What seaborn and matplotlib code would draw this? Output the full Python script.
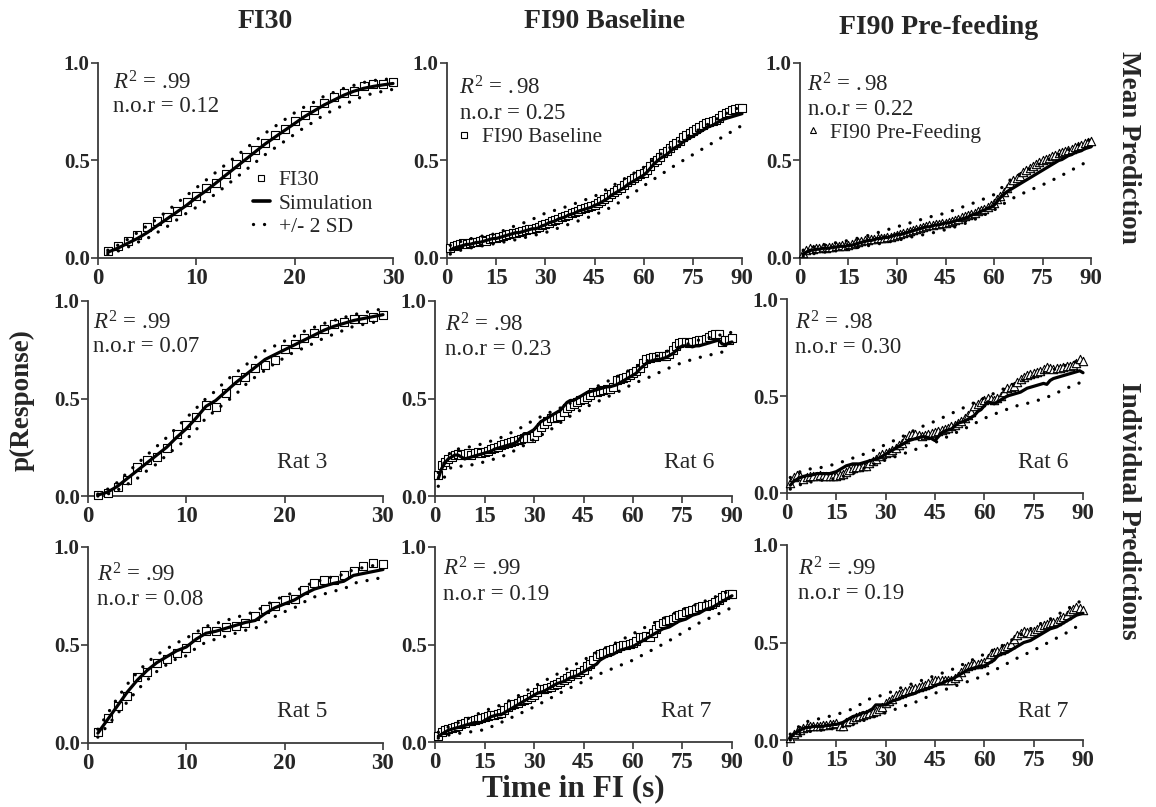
import numpy as np
import matplotlib
matplotlib.use("Agg")
import matplotlib.pyplot as plt
from matplotlib.lines import Line2D
import seaborn as sns

# ---------------------------------------------------------------- data
t30 = np.arange(1, 31)
t90 = np.arange(1, 91)
band90_t = [1, 5, 10, 15, 20, 25, 30, 35, 40, 45, 50, 55, 60, 65, 70, 75, 80, 85, 90]

# FI30, mean
fi30_mean_obs = [0.034, 0.06, 0.085, 0.12, 0.16, 0.19, 0.21, 0.24, 0.285, 0.32,
                 0.36, 0.385, 0.43, 0.48, 0.52, 0.555, 0.59, 0.63, 0.66, 0.70,
                 0.735, 0.76, 0.795, 0.825, 0.845, 0.855, 0.88, 0.89, 0.894, 0.90]
fi30_mean_sim = [0.03, 0.05, 0.075, 0.10, 0.13, 0.165, 0.20, 0.235, 0.27, 0.31,
                 0.345, 0.385, 0.425, 0.465, 0.505, 0.545, 0.585, 0.62, 0.655, 0.69,
                 0.725, 0.755, 0.785, 0.81, 0.835, 0.855, 0.87, 0.88, 0.888, 0.895]
fi30_mean_hi = [0.04, 0.065, 0.095, 0.13, 0.165, 0.20, 0.24, 0.28, 0.32, 0.36,
                0.40, 0.44, 0.48, 0.52, 0.56, 0.60, 0.64, 0.675, 0.71, 0.745,
                0.775, 0.80, 0.83, 0.85, 0.87, 0.885, 0.90, 0.91, 0.915, 0.92]
fi30_mean_lo = [0.02, 0.035, 0.055, 0.08, 0.10, 0.13, 0.16, 0.195, 0.23, 0.26,
                0.295, 0.33, 0.37, 0.41, 0.45, 0.49, 0.53, 0.565, 0.60, 0.635,
                0.67, 0.70, 0.735, 0.76, 0.785, 0.81, 0.83, 0.845, 0.855, 0.865]

# FI30, rat 3
fi30_rat3_obs = [0.005, 0.017, 0.048, 0.082, 0.147, 0.184, 0.20, 0.244, 0.32, 0.363,
                 0.406, 0.466, 0.454, 0.526, 0.594, 0.611, 0.654, 0.67, 0.70, 0.756,
                 0.78, 0.81, 0.838, 0.858, 0.884, 0.89, 0.906, 0.91, 0.92, 0.93]
fi30_rat3_sim = [0.005, 0.02, 0.05, 0.09, 0.13, 0.17, 0.21, 0.25, 0.30, 0.345,
                 0.40, 0.46, 0.49, 0.535, 0.58, 0.62, 0.66, 0.70, 0.725, 0.75,
                 0.775, 0.80, 0.825, 0.85, 0.87, 0.885, 0.90, 0.91, 0.92, 0.93]
fi30_rat3_hi = [0.01, 0.035, 0.07, 0.12, 0.165, 0.21, 0.255, 0.30, 0.35, 0.40,
                0.45, 0.50, 0.54, 0.59, 0.63, 0.67, 0.71, 0.745, 0.77, 0.795,
                0.82, 0.845, 0.865, 0.885, 0.90, 0.915, 0.93, 0.94, 0.95, 0.96]
fi30_rat3_lo = [0.0, 0.01, 0.03, 0.06, 0.09, 0.13, 0.165, 0.21, 0.25, 0.29,
                0.34, 0.40, 0.44, 0.48, 0.52, 0.57, 0.61, 0.645, 0.68, 0.71,
                0.74, 0.76, 0.785, 0.81, 0.83, 0.85, 0.87, 0.88, 0.89, 0.90]

# FI30, rat 5
fi30_rat5_obs = [0.056, 0.13, 0.19, 0.24, 0.335, 0.36, 0.41, 0.43, 0.46, 0.486,
                 0.54, 0.57, 0.57, 0.59, 0.595, 0.61, 0.65, 0.685, 0.70, 0.73,
                 0.735, 0.78, 0.815, 0.83, 0.83, 0.855, 0.88, 0.905, 0.92, 0.915]
fi30_rat5_sim = [0.05, 0.12, 0.19, 0.26, 0.32, 0.37, 0.41, 0.44, 0.47, 0.49,
                 0.53, 0.56, 0.57, 0.585, 0.60, 0.615, 0.625, 0.66, 0.69, 0.71,
                 0.73, 0.76, 0.785, 0.80, 0.815, 0.825, 0.855, 0.865, 0.875, 0.885]
fi30_rat5_hi = [0.07, 0.15, 0.23, 0.30, 0.36, 0.41, 0.45, 0.48, 0.51, 0.535,
                0.565, 0.595, 0.61, 0.625, 0.64, 0.655, 0.67, 0.70, 0.73, 0.75,
                0.77, 0.80, 0.82, 0.835, 0.85, 0.86, 0.885, 0.895, 0.905, 0.915]
fi30_rat5_lo = [0.03, 0.09, 0.15, 0.21, 0.27, 0.32, 0.365, 0.40, 0.43, 0.445,
                0.485, 0.515, 0.53, 0.545, 0.56, 0.575, 0.585, 0.615, 0.645, 0.67,
                0.69, 0.72, 0.745, 0.76, 0.775, 0.785, 0.815, 0.825, 0.835, 0.845]

# FI90 baseline, mean
base_mean_obs = [0.05, 0.06, 0.065, 0.07, 0.075, 0.07, 0.075, 0.08, 0.08, 0.085,
                 0.09, 0.085, 0.095, 0.10, 0.10, 0.11, 0.115, 0.12, 0.125, 0.13,
                 0.13, 0.135, 0.14, 0.145, 0.15, 0.15, 0.155, 0.16, 0.17, 0.175,
                 0.18, 0.19, 0.195, 0.20, 0.21, 0.215, 0.22, 0.23, 0.235, 0.24,
                 0.25, 0.255, 0.26, 0.265, 0.27, 0.28, 0.29, 0.30, 0.315, 0.33,
                 0.34, 0.35, 0.36, 0.375, 0.39, 0.40, 0.41, 0.42, 0.43, 0.435,
                 0.45, 0.47, 0.49, 0.505, 0.52, 0.54, 0.55, 0.565, 0.58, 0.59,
                 0.60, 0.62, 0.63, 0.64, 0.65, 0.66, 0.67, 0.68, 0.69, 0.695,
                 0.70, 0.71, 0.72, 0.735, 0.745, 0.75, 0.76, 0.765, 0.77, 0.77]
base_mean_sim = [0.04, 0.05, 0.055, 0.06, 0.065, 0.07, 0.07, 0.075, 0.08, 0.08,
                 0.085, 0.09, 0.095, 0.10, 0.10, 0.105, 0.11, 0.115, 0.12, 0.125,
                 0.13, 0.13, 0.135, 0.14, 0.145, 0.15, 0.15, 0.155, 0.165, 0.17,
                 0.18, 0.185, 0.19, 0.20, 0.205, 0.21, 0.22, 0.225, 0.23, 0.24,
                 0.245, 0.25, 0.255, 0.26, 0.27, 0.275, 0.285, 0.295, 0.305, 0.32,
                 0.33, 0.34, 0.35, 0.36, 0.375, 0.385, 0.395, 0.405, 0.415, 0.425,
                 0.44, 0.46, 0.48, 0.495, 0.51, 0.52, 0.53, 0.545, 0.56, 0.57,
                 0.58, 0.595, 0.605, 0.615, 0.625, 0.635, 0.645, 0.655, 0.665, 0.675,
                 0.68, 0.69, 0.70, 0.71, 0.715, 0.72, 0.725, 0.73, 0.735, 0.74]
base_mean_hi = [0.065, 0.09, 0.11, 0.125, 0.16, 0.19, 0.23, 0.255, 0.285, 0.316,
                0.365, 0.415, 0.465, 0.53, 0.59, 0.64, 0.69, 0.74, 0.78]
base_mean_lo = [0.02, 0.045, 0.06, 0.075, 0.09, 0.11, 0.13, 0.16, 0.19, 0.22,
                0.26, 0.31, 0.37, 0.425, 0.48, 0.53, 0.58, 0.63, 0.68]

# FI90 baseline, rat 6
base_rat6_obs = [0.11, 0.16, 0.175, 0.19, 0.20, 0.21, 0.215, 0.21, 0.215, 0.22,
                 0.21, 0.22, 0.225, 0.22, 0.227, 0.23, 0.24, 0.245, 0.25, 0.26,
                 0.265, 0.27, 0.275, 0.28, 0.285, 0.29, 0.295, 0.30, 0.30, 0.31,
                 0.33, 0.355, 0.37, 0.385, 0.40, 0.40, 0.405, 0.41, 0.43, 0.45,
                 0.46, 0.47, 0.48, 0.49, 0.50, 0.51, 0.52, 0.534, 0.535, 0.54,
                 0.545, 0.55, 0.55, 0.56, 0.595, 0.60, 0.605, 0.61, 0.62, 0.63,
                 0.64, 0.655, 0.68, 0.705, 0.71, 0.713, 0.715, 0.717, 0.72, 0.72,
                 0.73, 0.747, 0.77, 0.785, 0.79, 0.79, 0.785, 0.79, 0.795, 0.80,
                 0.80, 0.807, 0.815, 0.825, 0.83, 0.833, 0.79, 0.80, 0.80, 0.81]
base_rat6_sim = [0.09, 0.14, 0.17, 0.19, 0.20, 0.21, 0.21, 0.20, 0.19, 0.195,
                 0.20, 0.205, 0.21, 0.215, 0.22, 0.225, 0.23, 0.24, 0.245, 0.25,
                 0.255, 0.26, 0.265, 0.27, 0.28, 0.30, 0.32, 0.32, 0.33, 0.34,
                 0.36, 0.38, 0.39, 0.40, 0.41, 0.42, 0.43, 0.44, 0.46, 0.48,
                 0.49, 0.49, 0.50, 0.51, 0.52, 0.53, 0.535, 0.54, 0.545, 0.55,
                 0.555, 0.56, 0.56, 0.565, 0.57, 0.58, 0.59, 0.60, 0.61, 0.62,
                 0.63, 0.65, 0.665, 0.68, 0.69, 0.695, 0.70, 0.70, 0.705, 0.71,
                 0.72, 0.73, 0.745, 0.76, 0.77, 0.77, 0.77, 0.765, 0.77, 0.77,
                 0.775, 0.78, 0.785, 0.79, 0.795, 0.80, 0.78, 0.775, 0.785, 0.79]
base_rat6_hi = [0.12, 0.235, 0.25, 0.27, 0.30, 0.34, 0.39, 0.43, 0.466, 0.52,
                0.57, 0.61, 0.655, 0.70, 0.74, 0.77, 0.80, 0.82, 0.84]
base_rat6_lo = [0.05, 0.15, 0.155, 0.175, 0.20, 0.24, 0.29, 0.34, 0.40, 0.45,
                0.49, 0.53, 0.575, 0.61, 0.65, 0.685, 0.71, 0.73, 0.75]

# FI90 baseline, rat 7
base_rat7_obs = [0.03, 0.05, 0.06, 0.065, 0.07, 0.075, 0.08, 0.09, 0.10, 0.11,
                 0.11, 0.115, 0.12, 0.125, 0.13, 0.135, 0.14, 0.14, 0.145, 0.15,
                 0.165, 0.18, 0.19, 0.195, 0.20, 0.21, 0.215, 0.22, 0.23, 0.24,
                 0.255, 0.27, 0.27, 0.275, 0.28, 0.29, 0.30, 0.31, 0.32, 0.33,
                 0.34, 0.35, 0.35, 0.36, 0.37, 0.39, 0.40, 0.42, 0.44, 0.45,
                 0.455, 0.46, 0.47, 0.475, 0.48, 0.49, 0.495, 0.50, 0.505, 0.51,
                 0.52, 0.54, 0.54, 0.545, 0.54, 0.56, 0.58, 0.60, 0.61, 0.62,
                 0.625, 0.63, 0.64, 0.65, 0.655, 0.665, 0.67, 0.675, 0.68, 0.69,
                 0.695, 0.70, 0.705, 0.71, 0.72, 0.73, 0.745, 0.755, 0.76, 0.76]
base_rat7_sim = [0.03, 0.04, 0.05, 0.06, 0.065, 0.07, 0.075, 0.08, 0.085, 0.09,
                 0.095, 0.10, 0.10, 0.10, 0.11, 0.12, 0.13, 0.135, 0.14, 0.14,
                 0.15, 0.16, 0.17, 0.18, 0.19, 0.20, 0.21, 0.22, 0.23, 0.24,
                 0.25, 0.255, 0.26, 0.27, 0.28, 0.29, 0.30, 0.305, 0.31, 0.32,
                 0.33, 0.335, 0.34, 0.35, 0.36, 0.37, 0.38, 0.39, 0.40, 0.42,
                 0.43, 0.44, 0.445, 0.45, 0.46, 0.47, 0.475, 0.48, 0.485, 0.49,
                 0.50, 0.51, 0.52, 0.53, 0.54, 0.55, 0.56, 0.57, 0.58, 0.585,
                 0.59, 0.60, 0.61, 0.62, 0.625, 0.63, 0.64, 0.65, 0.655, 0.66,
                 0.67, 0.68, 0.685, 0.69, 0.70, 0.71, 0.72, 0.73, 0.74, 0.75]
base_rat7_hi = [0.05, 0.085, 0.12, 0.16, 0.19, 0.235, 0.285, 0.33, 0.375, 0.42,
                0.47, 0.51, 0.555, 0.60, 0.64, 0.68, 0.71, 0.745, 0.78]
base_rat7_lo = [0.02, 0.04, 0.05, 0.063, 0.10, 0.14, 0.18, 0.225, 0.27, 0.31,
                0.35, 0.385, 0.42, 0.465, 0.51, 0.56, 0.61, 0.65, 0.69]

# FI90 pre-feeding, mean
pre_mean_obs = [0.025, 0.04, 0.05, 0.045, 0.05, 0.05, 0.055, 0.05, 0.055, 0.055,
                0.06, 0.06, 0.065, 0.06, 0.065, 0.07, 0.075, 0.08, 0.085, 0.09,
                0.09, 0.095, 0.095, 0.10, 0.10, 0.105, 0.11, 0.11, 0.115, 0.12,
                0.125, 0.13, 0.135, 0.14, 0.145, 0.15, 0.155, 0.16, 0.165, 0.17,
                0.17, 0.175, 0.175, 0.18, 0.18, 0.185, 0.19, 0.195, 0.20, 0.21,
                0.215, 0.22, 0.225, 0.23, 0.24, 0.245, 0.25, 0.26, 0.27, 0.28,
                0.30, 0.32, 0.34, 0.36, 0.385, 0.40, 0.41, 0.42, 0.44, 0.45,
                0.46, 0.47, 0.48, 0.49, 0.50, 0.51, 0.515, 0.525, 0.53, 0.54,
                0.545, 0.55, 0.555, 0.56, 0.57, 0.575, 0.58, 0.59, 0.595, 0.60]
pre_mean_sim = [0.02, 0.03, 0.04, 0.04, 0.045, 0.045, 0.05, 0.05, 0.05, 0.055,
                0.055, 0.06, 0.06, 0.06, 0.065, 0.065, 0.07, 0.075, 0.08, 0.085,
                0.09, 0.09, 0.095, 0.10, 0.10, 0.105, 0.105, 0.11, 0.115, 0.12,
                0.12, 0.125, 0.13, 0.135, 0.14, 0.145, 0.15, 0.155, 0.16, 0.16,
                0.165, 0.17, 0.17, 0.175, 0.18, 0.18, 0.185, 0.19, 0.195, 0.20,
                0.205, 0.21, 0.22, 0.225, 0.23, 0.24, 0.245, 0.255, 0.26, 0.27,
                0.29, 0.31, 0.325, 0.34, 0.35, 0.36, 0.37, 0.38, 0.39, 0.40,
                0.41, 0.42, 0.43, 0.44, 0.45, 0.46, 0.47, 0.48, 0.49, 0.50,
                0.505, 0.515, 0.525, 0.53, 0.54, 0.545, 0.55, 0.56, 0.565, 0.57]
pre_mean_hi = [0.04, 0.06, 0.075, 0.09, 0.11, 0.135, 0.16, 0.185, 0.21, 0.23,
               0.26, 0.29, 0.325, 0.40, 0.45, 0.49, 0.53, 0.57, 0.61]
pre_mean_lo = [0.01, 0.025, 0.035, 0.045, 0.06, 0.075, 0.09, 0.11, 0.125, 0.145,
               0.17, 0.205, 0.245, 0.30, 0.34, 0.375, 0.415, 0.46, 0.505]

# FI90 pre-feeding, rat 6
pre_rat6_obs = [0.05, 0.08, 0.095, 0.09, 0.07, 0.08, 0.09, 0.086, 0.09, 0.095,
                0.09, 0.088, 0.086, 0.09, 0.09, 0.095, 0.10, 0.11, 0.12, 0.13,
                0.135, 0.135, 0.137, 0.14, 0.155, 0.165, 0.175, 0.19, 0.20, 0.206,
                0.21, 0.22, 0.23, 0.245, 0.258, 0.28, 0.30, 0.305, 0.306, 0.30,
                0.296, 0.30, 0.306, 0.31, 0.313, 0.32, 0.326, 0.33, 0.335, 0.344,
                0.35, 0.36, 0.37, 0.385, 0.40, 0.42, 0.447, 0.46, 0.47, 0.48,
                0.49, 0.485, 0.48, 0.49, 0.498, 0.52, 0.54, 0.545, 0.55, 0.57,
                0.59, 0.60, 0.61, 0.615, 0.62, 0.625, 0.627, 0.64, 0.65, 0.645,
                0.64, 0.642, 0.644, 0.65, 0.653, 0.655, 0.66, 0.67, 0.69, 0.68]
pre_rat6_sim = [0.04, 0.06, 0.07, 0.08, 0.085, 0.09, 0.09, 0.095, 0.10, 0.10,
                0.10, 0.10, 0.10, 0.105, 0.11, 0.12, 0.13, 0.14, 0.145, 0.15,
                0.15, 0.15, 0.155, 0.16, 0.165, 0.17, 0.175, 0.18, 0.19, 0.20,
                0.21, 0.22, 0.23, 0.24, 0.25, 0.26, 0.27, 0.275, 0.28, 0.285,
                0.29, 0.29, 0.285, 0.28, 0.27, 0.29, 0.31, 0.32, 0.325, 0.33,
                0.345, 0.36, 0.365, 0.37, 0.38, 0.39, 0.40, 0.42, 0.43, 0.45,
                0.47, 0.465, 0.46, 0.47, 0.48, 0.49, 0.50, 0.505, 0.51, 0.515,
                0.52, 0.53, 0.54, 0.545, 0.55, 0.555, 0.56, 0.565, 0.56, 0.58,
                0.59, 0.595, 0.60, 0.605, 0.61, 0.615, 0.62, 0.625, 0.63, 0.62]
pre_rat6_hi = [0.08, 0.12, 0.13, 0.15, 0.18, 0.21, 0.25, 0.29, 0.335, 0.37,
               0.41, 0.45, 0.49, 0.53, 0.57, 0.60, 0.63, 0.66, 0.69]
pre_rat6_lo = [0.02, 0.05, 0.065, 0.075, 0.10, 0.14, 0.17, 0.20, 0.23, 0.26,
               0.30, 0.34, 0.385, 0.42, 0.45, 0.47, 0.50, 0.54, 0.575]

# FI90 pre-feeding, rat 7
pre_rat7_obs = [0.01, 0.03, 0.04, 0.05, 0.06, 0.065, 0.07, 0.07, 0.07, 0.07,
                0.075, 0.075, 0.08, 0.08, 0.085, 0.07, 0.07, 0.09, 0.10, 0.11,
                0.12, 0.125, 0.13, 0.135, 0.14, 0.145, 0.15, 0.16, 0.17, 0.19,
                0.20, 0.21, 0.23, 0.235, 0.24, 0.25, 0.255, 0.26, 0.265, 0.27,
                0.275, 0.28, 0.29, 0.30, 0.31, 0.31, 0.31, 0.31, 0.31, 0.31,
                0.32, 0.33, 0.35, 0.37, 0.38, 0.385, 0.39, 0.39, 0.395, 0.40,
                0.42, 0.44, 0.45, 0.455, 0.46, 0.47, 0.48, 0.49, 0.52, 0.54,
                0.55, 0.56, 0.555, 0.55, 0.56, 0.57, 0.58, 0.59, 0.595, 0.60,
                0.605, 0.61, 0.62, 0.63, 0.64, 0.66, 0.67, 0.68, 0.675, 0.665]
pre_rat7_sim = [0.01, 0.03, 0.04, 0.05, 0.06, 0.065, 0.065, 0.07, 0.07, 0.07,
                0.07, 0.075, 0.075, 0.08, 0.08, 0.085, 0.09, 0.10, 0.11, 0.12,
                0.125, 0.13, 0.14, 0.14, 0.15, 0.16, 0.18, 0.18, 0.18, 0.18,
                0.19, 0.20, 0.205, 0.21, 0.22, 0.225, 0.23, 0.235, 0.24, 0.25,
                0.255, 0.26, 0.265, 0.27, 0.28, 0.285, 0.29, 0.30, 0.305, 0.31,
                0.32, 0.33, 0.34, 0.35, 0.36, 0.365, 0.37, 0.375, 0.38, 0.38,
                0.39, 0.40, 0.41, 0.43, 0.44, 0.445, 0.45, 0.46, 0.47, 0.48,
                0.49, 0.50, 0.505, 0.51, 0.52, 0.53, 0.54, 0.55, 0.56, 0.57,
                0.575, 0.58, 0.59, 0.60, 0.61, 0.62, 0.63, 0.64, 0.645, 0.65]
pre_rat7_hi = [0.03, 0.09, 0.11, 0.13, 0.16, 0.21, 0.235, 0.27, 0.30, 0.33,
               0.36, 0.40, 0.44, 0.48, 0.53, 0.58, 0.62, 0.67, 0.72]
pre_rat7_lo = [0.0, 0.04, 0.05, 0.06, 0.08, 0.11, 0.14, 0.17, 0.20, 0.24,
               0.27, 0.30, 0.33, 0.375, 0.42, 0.46, 0.505, 0.55, 0.60]

r2_labels = [[".99", ".98", ".98"], [".99", ".98", ".98"], [".99", ".99", ".99"]]
nor_labels = [["0.12", "0.25", "0.22"], ["0.07", "0.23", "0.30"], ["0.08", "0.19", "0.19"]]
rat_labels = [[None, None, None], ["Rat 3", "Rat 6", "Rat 6"], ["Rat 5", "Rat 7", "Rat 7"]]
col_titles = ["FI30", "FI90 Baseline", "FI90 Pre-feeding"]
row_titles = ["Mean Prediction", "Individual Predictions"]

# ---------------------------------------------------------------- style
sns.set_style("ticks")
plt.rcParams["font.family"] = ["Liberation Serif", "DejaVu Serif"]
plt.rcParams["mathtext.fontset"] = "custom"
plt.rcParams["mathtext.rm"] = "Liberation Serif"
plt.rcParams["mathtext.it"] = "Liberation Serif:italic"
plt.rcParams["mathtext.bf"] = "Liberation Serif:bold"

W, H = 1156, 807
fig = plt.figure(figsize=(W / 100, H / 100), dpi=100)
fig.patch.set_facecolor("white")

DOT = (0, (0.01, 3.3))
SPINE = "#3a3a3a"


def box(left, top, right, bottom):
    return [left / W, 1 - bottom / H, (right - left) / W, (bottom - top) / H]


# axes frames, pixel edges (left, top, right, bottom)
frames = [
    [box(98, 63, 393, 258), box(447, 63, 742, 258), box(800, 63, 1091, 258)],
    [box(88, 301, 383, 496), box(435, 301, 732, 496), box(787, 299, 1083, 493)],
    [box(88, 547, 383, 743), box(435, 547, 732, 742), box(787, 545, 1083, 740)],
]

panels = [
    [(t30, fi30_mean_obs, fi30_mean_sim, t30, fi30_mean_hi, fi30_mean_lo, "s"),
     (t90, base_mean_obs, base_mean_sim, band90_t, base_mean_hi, base_mean_lo, "s"),
     (t90, pre_mean_obs, pre_mean_sim, band90_t, pre_mean_hi, pre_mean_lo, "^")],
    [(t30, fi30_rat3_obs, fi30_rat3_sim, t30, fi30_rat3_hi, fi30_rat3_lo, "s"),
     (t90, base_rat6_obs, base_rat6_sim, band90_t, base_rat6_hi, base_rat6_lo, "s"),
     (t90, pre_rat6_obs, pre_rat6_sim, band90_t, pre_rat6_hi, pre_rat6_lo, "^")],
    [(t30, fi30_rat5_obs, fi30_rat5_sim, t30, fi30_rat5_hi, fi30_rat5_lo, "s"),
     (t90, base_rat7_obs, base_rat7_sim, band90_t, base_rat7_hi, base_rat7_lo, "s"),
     (t90, pre_rat7_obs, pre_rat7_sim, band90_t, pre_rat7_hi, pre_rat7_lo, "^")],
]

# text anchor positions inside each panel (axes fraction)
stat_pos = [
    [(0.05, 0.90, 0.775), (0.04, 0.87, 0.74), (0.024, 0.887, 0.76)],
    [(0.017, 0.89, 0.765), (0.033, 0.875, 0.75), (0.027, 0.876, 0.75)],
    [(0.03, 0.857, 0.73), (0.027, 0.89, 0.755), (0.037, 0.88, 0.75)],
]
rat_pos = [[None, None, None],
           [(0.64, 0.17), (0.77, 0.17), (0.78, 0.155)],
           [(0.64, 0.16), (0.76, 0.155), (0.78, 0.145)]]

for r in range(3):
    for c in range(3):
        ax = fig.add_axes(frames[r][c])
        tx, obs, sim, bx, hi, lo, mk = panels[r][c]
        ms = 32 if mk == "s" else 36
        sns.scatterplot(x=tx, y=obs, marker=mk, s=ms, facecolor="white",
                        edgecolor="black", linewidth=0.8, ax=ax, zorder=3,
                        clip_on=False, legend=False)
        sns.lineplot(x=tx, y=sim, color="black", lw=2.3, ax=ax, zorder=4,
                     clip_on=False)
        for band in (hi, lo):
            sns.lineplot(x=bx, y=band, color="black", lw=2.4, linestyle=DOT,
                         dash_capstyle="round", ax=ax, zorder=4, clip_on=False)

        xmax = 30 if c == 0 else 90
        ax.set_xlim(0, xmax)
        ax.set_ylim(0, 1)
        ax.set_xticks([0, 10, 20, 30] if c == 0 else list(range(0, 91, 15)))
        ax.set_yticks([0, 0.5, 1.0])
        ax.set_yticklabels(["0.0", "0.5", "1.0"])
        ax.set_xlabel("")
        ax.set_ylabel("")
        sns.despine(ax=ax)
        for side in ("left", "bottom"):
            ax.spines[side].set_color(SPINE)
            ax.spines[side].set_linewidth(1.3)
        ax.tick_params(axis="both", direction="out", length=5, width=1.2,
                       color=SPINE)
        ax.tick_params(axis="x", labelsize=16.5, pad=2.5)
        ax.tick_params(axis="y", labelsize=15, pad=1)
        for lab in ax.get_xticklabels() + ax.get_yticklabels():
            lab.set_fontweight("bold")
        ax.patch.set_alpha(0)

        sx, sy1, sy2 = stat_pos[r][c]
        if r == 0 and c > 0:
            r2_txt = r"$R^2$ = $\mathit{" + r2_labels[r][c] + "}$"
            nor_txt = r"n.o.r = $\mathit{" + nor_labels[r][c] + "}$"
        else:
            r2_txt = r"$R^2$ = " + r2_labels[r][c]
            nor_txt = "n.o.r = " + nor_labels[r][c]
        ax.text(sx, sy1, r2_txt, transform=ax.transAxes, fontsize=16.5,
                va="center", ha="left")
        ax.text(sx, sy2, nor_txt, transform=ax.transAxes, fontsize=16.5,
                va="center", ha="left")
        if rat_labels[r][c]:
            px, py = rat_pos[r][c]
            ax.text(px, py, rat_labels[r][c], transform=ax.transAxes,
                    fontsize=17, va="center", ha="left")

        # legends
        if r == 0 and c == 0:
            handles = [
                Line2D([], [], marker="s", ls="none", mfc="white", mec="black",
                       ms=5, mew=0.8),
                Line2D([], [], color="black", lw=2.6),
                Line2D([], [], color="black", lw=2.4, ls=DOT,
                       dash_capstyle="round"),
            ]
            ax.legend(handles, ["FI30", "Simulation", "+/- 2 SD"],
                      loc="upper left", bbox_to_anchor=(0.525, 0.45),
                      frameon=False, fontsize=15.5, handlelength=0.8,
                      handletextpad=0.4, borderpad=0, borderaxespad=0,
                      labelspacing=0.15)
        elif r == 0:
            lbl = "FI90 Baseline" if c == 1 else "FI90 Pre-Feeding"
            h = Line2D([], [], marker=mk, ls="none", mfc="white", mec="black",
                       ms=5, mew=0.8)
            ax.legend([h], [lbl], loc="upper left",
                      bbox_to_anchor=(0.03 if c == 1 else 0.015,
                                      0.67 if c == 1 else 0.695),
                      frameon=False, fontsize=15.5, handlelength=0.8,
                      handletextpad=0.4, borderpad=0, borderaxespad=0)

# titles and axis labels
fig.text(265 / W, 1 - 22 / H, col_titles[0], ha="center", va="center",
         fontsize=20, fontweight="bold")
fig.text(604 / W, 1 - 22 / H, col_titles[1], ha="center", va="center",
         fontsize=20, fontweight="bold")
fig.text(939 / W, 1 - 27 / H, col_titles[2], ha="center", va="center",
         fontsize=20, fontweight="bold")
fig.text(1129 / W, 1 - 147 / H, row_titles[0], ha="center", va="center",
         rotation=-90, fontsize=19.5, fontweight="bold")
fig.text(1129 / W, 1 - 511 / H, row_titles[1], ha="center", va="center",
         rotation=-90, fontsize=19.5, fontweight="bold")
fig.text(22 / W, 1 - 400 / H, "p(Response)", ha="center", va="center",
         rotation=90, fontsize=19.5, fontweight="bold")
fig.text(573 / W, 1 - 789 / H, "Time in FI (s)", ha="center", va="center",
         fontsize=22.5, fontweight="bold")

fig.savefig("out.png", dpi=100, facecolor="white")
